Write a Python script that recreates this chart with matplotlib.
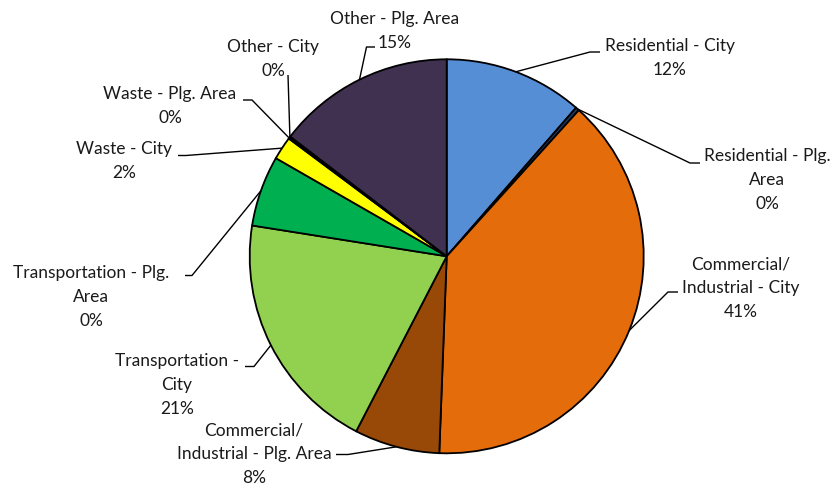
import numpy as np
import matplotlib
matplotlib.use("Agg")
import matplotlib.pyplot as plt

# sector shares (percent of total), clockwise from 12 o'clock
sectors = ["Residential - City", "Residential - Plg.\nArea",
           "Commercial/\nIndustrial - City", "Commercial/\nIndustrial - Plg. Area",
           "Transportation -\nCity", "Transportation - Plg.\nArea",
           "Waste - City", "Waste - Plg. Area", "Other - City", "Other - Plg. Area"]
shares = [11.4, 0.3, 38.9, 7.0, 19.9, 5.8, 1.9, 0.1, 0.1, 14.6]
pct_labels = ["12%", "0%", "41%", "8%", "21%", "0%", "2%", "0%", "0%", "15%"]
colors = ["#558ED5", "#1F3864", "#E46C0A", "#984807", "#92D050",
          "#00B050", "#FFFF00", "#7F7F7F", "#4BACC6", "#403151"]

# label block centres and leader elbows, in pixels (y down)
label_xy = [(670, 58), (767, 180), (741, 288), (254, 454), (177, 385),
            (91, 297), (124, 161), (170, 106), (273, 59), (395, 31)]
elbows = [[(590, 53), (600, 53)],
          [(690, 164), (700, 164)],
          [(668, 293), (678, 293)],
          [(348, 455.5), (336, 455.5)],
          [(254, 367.5), (245, 367.5)],
          [(192, 276.5), (185, 276.5)],
          [(186, 156.5), (178, 156.5)],
          [(252, 101), (243, 101)],
          [(288, 76)],
          [(366.5, 48), (375, 48)]]

W, H = 831, 489
cx, cy, R = 446.7, 257.3, 197

fig = plt.figure(figsize=(W / 100, H / 100), dpi=100)
ax = fig.add_axes([0, 0, 1, 1])
ax.set_ylim(H, 0)

wedges, _ = ax.pie(shares, colors=colors, startangle=-90, counterclock=True,
                   center=(cx, cy), radius=R,
                   wedgeprops=dict(edgecolor="black", linewidth=1.3))
ax.set_xlim(0, W)
ax.set_ylim(H, 0)
ax.set_aspect("equal")
ax.axis("off")

for w, name, pct, (tx, ty), elb in zip(wedges, sectors, pct_labels, label_xy, elbows):
    mid = np.deg2rad((w.theta1 + w.theta2) / 2)
    px, py = cx + R * np.cos(mid), cy + R * np.sin(mid)
    xs = [px] + [e[0] for e in elb]
    ys = [py] + [e[1] for e in elb]
    ax.plot(xs, ys, color="black", lw=1.0, solid_capstyle="butt")
    ax.text(tx, ty, name + "\n" + pct, ha="center", va="center",
            multialignment="center", fontsize=12.5, family=["Lato", "DejaVu Sans"],
            color="#1a1a1a", linespacing=1.6)

fig.savefig("out.png", dpi=100)
